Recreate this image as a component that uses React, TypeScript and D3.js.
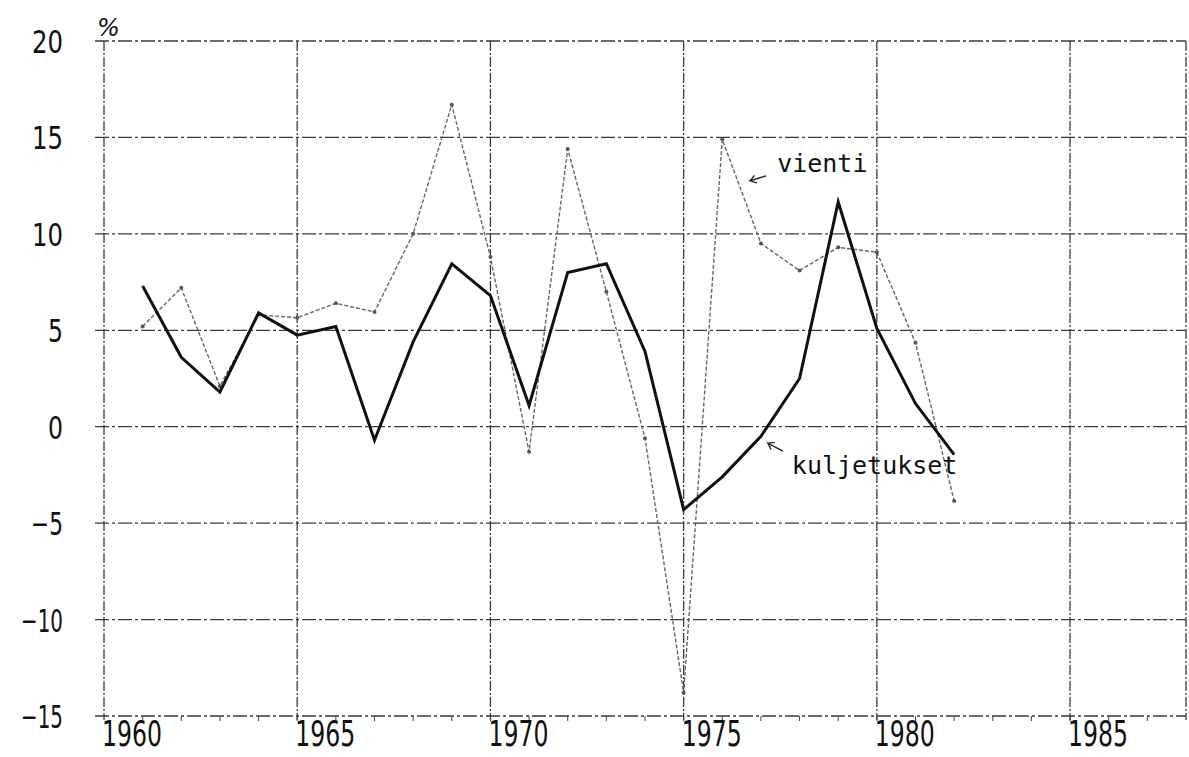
import React, { useRef, useEffect } from 'react';
import * as d3 from 'd3';

const years = [1961, 1962, 1963, 1964, 1965, 1966, 1967, 1968, 1969, 1970, 1971,
    1972, 1973, 1974, 1975, 1976, 1977, 1978, 1979, 1980, 1981, 1982];
const kuljetukset = [7.3, 3.6, 1.8, 5.9, 4.75, 5.2, -0.7, 4.4, 8.45, 6.8, 1.1,
    8.0, 8.45, 3.9, -4.3, -2.6, -0.5, 2.5, 11.65, 5.1, 1.2, -1.45];
const vienti = [5.2, 7.2, 2.1, 5.8, 5.65, 6.4, 5.95, 10.0, 16.7, 8.8, -1.3,
    14.4, 7.0, -0.6, -13.8, 14.9, 9.5, 8.1, 9.3, 9.05, 4.35, -3.85];
const xTicks = [1960, 1965, 1970, 1975, 1980, 1985];
const yTicks = [20, 15, 10, 5, 0, -5, -10, -15];

const W = 1189;
const H = 757;

const App = () => {
    const ref = useRef<SVGSVGElement>(null);

    useEffect(() => {
        const svg = d3.select(ref.current);
        svg.selectAll('*').remove();

        const x = d3.scaleLinear().domain([1960, 1988]).range([104, 1186]);
        const y = d3.scaleLinear().domain([-15, 20]).range([716, 41]);

        svg.append('rect').attr('width', W).attr('height', H).attr('fill', '#fff');

        const grid = svg.append('g');

        // horizontal grid lines
        grid.selectAll('.hline')
            .data(yTicks)
            .enter()
            .append('line')
            .attr('x1', x(1960) - 9)
            .attr('x2', x(1988))
            .attr('y1', d => y(d))
            .attr('y2', d => y(d))
            .attr('stroke', '#3a3a3a')
            .attr('stroke-width', 1.3)
            .attr('stroke-dasharray', '14 3 3 3');

        // vertical grid lines (+ right border)
        grid.selectAll('.vline')
            .data([...xTicks, 1988])
            .enter()
            .append('line')
            .attr('x1', d => x(d))
            .attr('x2', d => x(d))
            .attr('y1', y(20))
            .attr('y2', y(-15) + 4)
            .attr('stroke', '#3a3a3a')
            .attr('stroke-width', 1.3)
            .attr('stroke-dasharray', '10 2 2 2');

        // minor year ticks on bottom axis
        grid.selectAll('.ytick')
            .data(d3.range(1961, 1988))
            .enter()
            .append('line')
            .attr('x1', d => x(d))
            .attr('x2', d => x(d))
            .attr('y1', y(-15))
            .attr('y2', y(-15) + 5)
            .attr('stroke', '#444')
            .attr('stroke-width', 1);

        // y labels
        svg.selectAll('.ylab')
            .data(yTicks)
            .enter()
            .append('text')
            .attr('x', 63)
            .attr('y', d => y(d) + 12)
            .attr('text-anchor', 'end')
            .attr('font-family', 'DejaVu Sans')
            .attr('font-size', 32)
            .attr('fill', '#111')
            .attr('textLength', d => (d < 0 ? (d <= -10 ? 42 : 32) : (Math.abs(d) >= 10 ? 31 : 15)))
            .attr('lengthAdjust', 'spacingAndGlyphs')
            .text(d => (d < 0 ? '\u2212' + Math.abs(d) : String(d)));

        svg.append('text')
            .attr('x', 97)
            .attr('y', 36)
            .attr('font-family', 'DejaVu Sans')
            .attr('font-style', 'italic')
            .attr('font-size', 24)
            .attr('fill', '#111')
            .text('%');

        // x labels
        svg.selectAll('.xlab')
            .data(xTicks)
            .enter()
            .append('text')
            .attr('x', d => x(d) - 2)
            .attr('y', 746)
            .attr('font-family', 'DejaVu Sans')
            .attr('font-size', 36)
            .attr('fill', '#111')
            .attr('textLength', 60)
            .attr('lengthAdjust', 'spacingAndGlyphs')
            .text(d => d);

        const line = d3.line<number>()
            .x((_, i) => x(years[i]))
            .y(d => y(d));

        // vienti: thin dashed with dots
        svg.append('path')
            .datum(vienti)
            .attr('d', line)
            .attr('fill', 'none')
            .attr('stroke', '#666')
            .attr('stroke-width', 1.4)
            .attr('stroke-dasharray', '4 2');

        svg.selectAll('.vdot')
            .data(vienti)
            .enter()
            .append('circle')
            .attr('cx', (_, i) => x(years[i]))
            .attr('cy', d => y(d))
            .attr('r', 2)
            .attr('fill', '#555');

        // kuljetukset: bold solid
        svg.append('path')
            .datum(kuljetukset)
            .attr('d', line)
            .attr('fill', 'none')
            .attr('stroke', '#111')
            .attr('stroke-width', 3)
            .attr('stroke-linejoin', 'miter');

        // annotations
        const note = (label: string, tx: number, ty: number, hx: number, hy: number, dx: number, dy: number) => {
            svg.append('text')
                .attr('x', x(tx))
                .attr('y', y(ty))
                .attr('font-family', 'DejaVu Sans Mono')
                .attr('font-size', 25)
                .attr('fill', '#111')
                .text(label);
            const ax = x(hx);
            const ay = y(hy);
            const a = Math.atan2(dy, dx);
            const hl = 7;
            const p = d3.path();
            p.moveTo(ax + dx, ay + dy);
            p.lineTo(ax, ay);
            p.lineTo(ax + hl * Math.cos(a + 0.6), ay + hl * Math.sin(a + 0.6));
            p.moveTo(ax, ay);
            p.lineTo(ax + hl * Math.cos(a - 0.6), ay + hl * Math.sin(a - 0.6));
            svg.append('path')
                .attr('d', p.toString())
                .attr('fill', 'none')
                .attr('stroke', '#222')
                .attr('stroke-width', 1.4);
        };

        note('vienti', 1977.42, 13.2, 1976.72, 12.75, 16, -5);
        note('kuljetukset', 1977.8, -2.45, 1977.18, -0.85, 15, 8);
    }, []);

    return (
        <div style={{ width: W, height: H }}>
            <style>{'body{margin:0}'}</style>
            <svg ref={ref} width={W} height={H} style={{ display: 'block' }}></svg>
        </div>
    );
};

export default App;
